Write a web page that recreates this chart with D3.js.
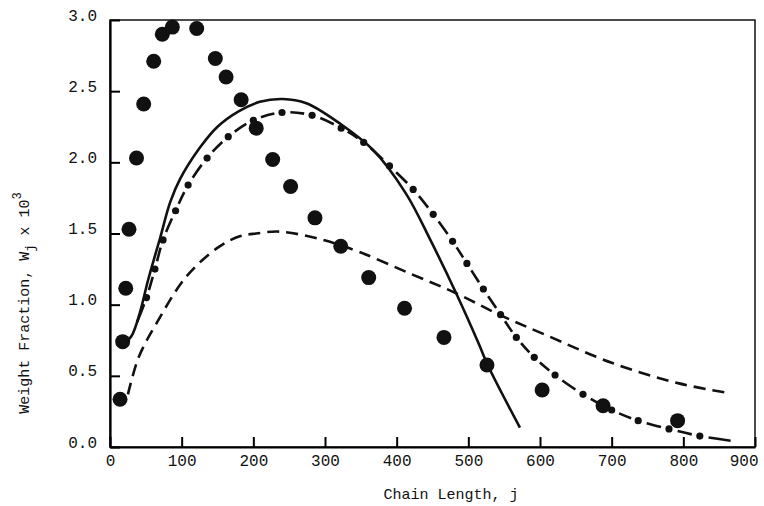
<!DOCTYPE html>
<html>
<head>
<meta charset="utf-8">
<script src="https://cdn.jsdelivr.net/npm/d3@7/dist/d3.min.js"></script>
<style>
  body { margin: 0; background: #fff; }
  svg text { font-family: "Liberation Mono", "DejaVu Sans Mono", monospace; fill: #111; }
</style>
</head>
<body>
<div id="chart"></div>
<script>
// ||================================||
// || DATA                           ||
// ||================================||

// measured points (big dots)
var expJ = [14, 17.7, 22, 26.5, 37, 47, 61, 73, 87, 121, 147, 162, 183, 204, 227, 252, 286, 322, 361, 411, 466, 526, 603, 688, 792];
var expW = [0.335, 0.74, 1.115, 1.53, 2.03, 2.41, 2.71, 2.90, 2.95, 2.94, 2.73, 2.60, 2.44, 2.24, 2.02, 1.83, 1.61, 1.41, 1.19, 0.975, 0.77, 0.576, 0.40, 0.29, 0.185];

// solid curve
var solidJ = [18, 30, 42, 53, 70, 84, 97.5, 125, 150, 180, 209, 241, 274, 320, 367, 413, 447, 483, 515, 527, 572];
var solidW = [0.72, 0.78, 0.95, 1.17, 1.47, 1.72, 1.88, 2.10, 2.25, 2.36, 2.425, 2.445, 2.415, 2.275, 2.087, 1.78, 1.455, 1.08, 0.72, 0.576, 0.136];

// dash-dot curve: first and last entries are the curve ends, the rest carry a small dot
var dotDashJ = [38, 51, 62.7, 74, 91.5, 109, 135.5, 165, 200, 240, 282, 322.6, 354, 390, 423, 451, 478, 498, 521, 545, 567, 592, 621, 660, 700, 737, 780, 823, 866];
var dotDashW = [0.88, 1.05, 1.25, 1.455, 1.66, 1.84, 2.03, 2.18, 2.295, 2.35, 2.33, 2.24, 2.14, 1.975, 1.81, 1.635, 1.445, 1.29, 1.11, 0.93, 0.77, 0.63, 0.506, 0.37, 0.26, 0.185, 0.127, 0.077, 0.044];

// long-dash curve
var dashJ = [25, 40, 65, 107, 153, 181, 204, 237, 297, 348, 418, 483, 543, 608, 701, 794, 866];
var dashW = [0.37, 0.63, 0.87, 1.20, 1.41, 1.48, 1.50, 1.513, 1.455, 1.37, 1.22, 1.08, 0.93, 0.787, 0.59, 0.447, 0.377];

var xTicks = [0, 100, 200, 300, 400, 500, 600, 700, 800, 900];
var yTicks = [0, 0.5, 1.0, 1.5, 2.0, 2.5, 3.0];

// ||================================||
// || CHART                          ||
// ||================================||

var width = 764, height = 506;

var x = d3.scaleLinear().domain([0, 900]).range([110, 755]);
var y = d3.scaleLinear().domain([0, 3]).range([447, 20]);

var svg = d3.select("#chart")
  .append("svg")
    .attr("width", width)
    .attr("height", height);

function zip(a, b) { return a.map(function(d, i) { return [d, b[i]]; }); }

var line = d3.line()
    .x(function(d) { return x(d[0]); })
    .y(function(d) { return y(d[1]); })
    .curve(d3.curveCatmullRom.alpha(0.5));

// frame (top + right)
svg.append("rect")
    .attr("x", x(0)).attr("y", y(3))
    .attr("width", x(900) - x(0)).attr("height", y(0) - y(3))
    .attr("fill", "none").attr("stroke", "#111").attr("stroke-width", 1.5);

// axes
var xAxis = svg.append("g")
    .attr("transform", "translate(0," + y(0) + ")")
    .call(d3.axisBottom(x).tickValues(xTicks).tickSizeInner(-10).tickSizeOuter(0).tickPadding(8)
      .tickFormat(d3.format("d")));
xAxis.select(".domain").attr("stroke-width", 2.2);
xAxis.selectAll(".tick line").attr("stroke-width", 2);
xAxis.selectAll(".tick text")
    .attr("font-size", 16)
    .attr("dy", "0.71em")
    .attr("text-anchor", function(d) { return d === 900 ? "end" : "middle"; })
    .attr("dx", function(d) { return d === 900 ? 3 : 0; });

var yAxis = svg.append("g")
    .attr("transform", "translate(" + x(0) + ",0)")
    .call(d3.axisLeft(y).tickValues(yTicks).tickSizeInner(-10).tickSizeOuter(0).tickPadding(13)
      .tickFormat(d3.format(".1f")));
yAxis.select(".domain").attr("stroke-width", 2.2);
yAxis.selectAll(".tick line").attr("stroke-width", 2);
yAxis.selectAll(".tick text")
    .attr("font-size", 16)
    .attr("y", -5);

// axis titles
svg.append("text")
    .attr("x", 451).attr("y", 499)
    .attr("text-anchor", "middle")
    .attr("font-size", 15)
    .text("Chain Length, j");

var yTitle = svg.append("text")
    .attr("transform", "translate(29,303) rotate(-90)")
    .attr("text-anchor", "middle")
    .attr("font-size", 15);
yTitle.append("tspan").text("Weight Fraction, W");
yTitle.append("tspan").attr("font-size", 12).attr("dy", 5).text("j");
yTitle.append("tspan").attr("dy", -5).text(" x 10");
yTitle.append("tspan").attr("font-size", 12).attr("dy", -8).text("3");

// curves
var plot = svg.append("g");

plot.append("path")
    .attr("d", line(zip(solidJ, solidW)))
    .attr("fill", "none").attr("stroke", "#111").attr("stroke-width", 2.6);

plot.append("path")
    .attr("d", line(zip(dashJ, dashW)))
    .attr("fill", "none").attr("stroke", "#111").attr("stroke-width", 2.6)
    .attr("stroke-dasharray", "12,7");

// dash-dot: one dash between every pair of small dots
var ddPts = zip(dotDashJ, dotDashW);
var ddPath = plot.append("path")
    .attr("d", line(ddPts))
    .attr("fill", "none").attr("stroke", "#111").attr("stroke-width", 2.6);

var node = ddPath.node(),
    total = node.getTotalLength();
var samples = [];
for (var s = 0; s <= total; s += 0.5) samples.push([s, node.getPointAtLength(s)]);

var lens = [], k = 0;
ddPts.forEach(function(p) {
  var px = x(p[0]), py = y(p[1]), best = Infinity, bestLen = 0;
  for (var i = k; i < samples.length; i++) {
    var q = samples[i][1], dd = (q.x - px) * (q.x - px) + (q.y - py) * (q.y - py);
    if (dd < best) { best = dd; bestLen = samples[i][0]; k = i; }
    else if (dd > best + 400) break;
  }
  lens.push(bestLen);
});

var on = [];
for (var i = 0; i < lens.length - 1; i++) {
  var a = lens[i], b = lens[i + 1], d = b - a;
  if (i === 0) on.push([a, a + 0.72 * d]);
  else if (i === lens.length - 2) on.push([a + 0.28 * d, b]);
  else on.push([a + 0.27 * d, b - 0.27 * d]);
}
var dash = [];
on.forEach(function(seg, i) {
  dash.push(seg[1] - seg[0]);
  dash.push(i < on.length - 1 ? on[i + 1][0] - seg[1] : total + 10);
});
ddPath.attr("stroke-dasharray", dash.join(","));

plot.selectAll(".smalldot")
    .data(ddPts.slice(1, ddPts.length - 1))
    .enter().append("circle")
      .attr("class", "smalldot")
      .attr("cx", function(d) { return x(d[0]); })
      .attr("cy", function(d) { return y(d[1]); })
      .attr("r", 3.6)
      .attr("fill", "#111");

// measured points
plot.selectAll(".bigdot")
    .data(zip(expJ, expW))
    .enter().append("circle")
      .attr("class", "bigdot")
      .attr("cx", function(d) { return x(d[0]); })
      .attr("cy", function(d) { return y(d[1]); })
      .attr("r", 7.5)
      .attr("fill", "#111");
</script>
</body>
</html>
